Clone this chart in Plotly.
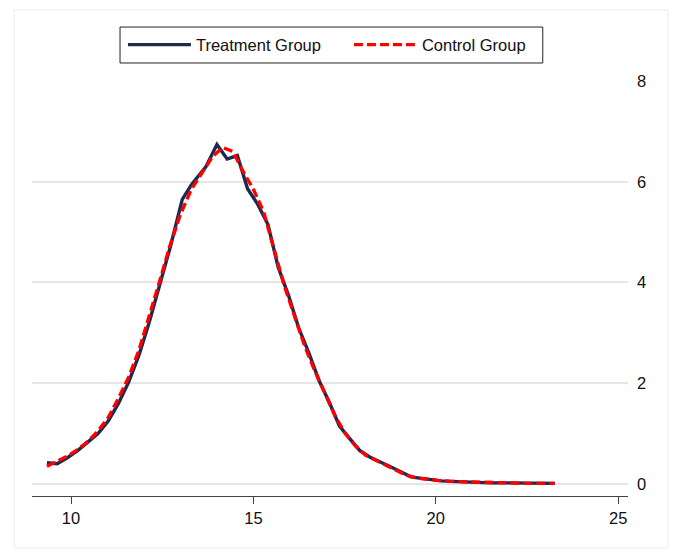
import plotly.graph_objects as go

# Treatment group density
treat_x = [9.34, 9.62, 9.90, 10.18, 10.46, 10.74, 11.02, 11.30, 11.58, 11.86, 12.14, 12.42,
           12.72, 13.05, 13.30, 13.70, 14.00, 14.28, 14.56, 14.84, 15.12, 15.40, 15.68, 15.96,
           16.24, 16.52, 16.80, 17.08, 17.36, 17.64, 17.92, 18.20, 18.48, 18.76, 19.04, 19.32,
           19.60, 19.88, 20.16, 20.44, 20.72, 21.00, 21.50, 22.00, 22.50, 23.00, 23.26]
treat_y = [0.42, 0.40, 0.52, 0.66, 0.83, 1.00, 1.25, 1.60, 2.02, 2.55, 3.20, 3.90,
           4.70, 5.65, 5.94, 6.30, 6.74, 6.45, 6.52, 5.86, 5.55, 5.15, 4.30, 3.75,
           3.10, 2.60, 2.05, 1.62, 1.15, 0.90, 0.66, 0.53, 0.44, 0.34, 0.24, 0.14,
           0.11, 0.08, 0.06, 0.05, 0.04, 0.03, 0.02, 0.02, 0.01, 0.01, 0.01]

# Control group density
ctrl_x = [9.34, 9.62, 9.90, 10.18, 10.46, 10.74, 11.02, 11.30, 11.58, 11.86, 12.14, 12.42,
          12.72, 13.00, 13.30, 13.60, 13.88, 14.16, 14.44, 14.72, 15.00, 15.28, 15.56, 15.84,
          16.12, 16.40, 16.68, 16.96, 17.24, 17.52, 17.80, 18.08, 18.36, 18.64, 18.92, 19.20,
          19.48, 19.76, 20.04, 20.40, 20.80, 21.20, 21.60, 22.00, 22.50, 23.00, 23.26]
ctrl_y = [0.35, 0.45, 0.55, 0.68, 0.84, 1.05, 1.32, 1.70, 2.12, 2.65, 3.30, 4.00,
          4.75, 5.35, 5.85, 6.20, 6.50, 6.68, 6.60, 6.20, 5.85, 5.40, 4.65, 3.95,
          3.35, 2.75, 2.25, 1.78, 1.35, 1.00, 0.75, 0.57, 0.47, 0.38, 0.27, 0.17,
          0.12, 0.09, 0.07, 0.05, 0.04, 0.03, 0.02, 0.02, 0.01, 0.01, 0.01]

x_ticks = [10, 15, 20, 25]
y_ticks = [0, 2, 4, 6, 8]
y_grid = [0, 2, 4, 6]

FONT = "Liberation Sans, Arial, sans-serif"
FS = 16.5

fig = go.Figure()
fig.add_trace(go.Scatter(x=treat_x, y=treat_y, mode="lines", name="Treatment Group",
                         line=dict(color="#1c2a50", width=3.4)))
fig.add_trace(go.Scatter(x=ctrl_x, y=ctrl_y, mode="lines", name="Control Group",
                         line=dict(color="#ff0000", width=3.4, dash="9px,4px")))

fig.update_layout(
    width=670, height=547,
    margin=dict(l=24, r=50, t=73, b=59, autoexpand=False),
    paper_bgcolor="white", plot_bgcolor="white",
    font=dict(family=FONT, size=FS, color="#111111"),
    showlegend=True,
    legend=dict(orientation="h", x=0.1526, xanchor="left", y=1.087, yanchor="middle",
                borderwidth=0, bgcolor="rgba(0,0,0,0)",
                itemwidth=63, entrywidth=148, font=dict(size=FS), tracegroupgap=0),
    xaxis=dict(range=[8.93, 25.27], tickvals=x_ticks, ticks="outside", ticklen=7,
               tickcolor="#444444", showline=True, linecolor="#444444", linewidth=1.2,
               showgrid=False, zeroline=False, tickfont=dict(size=FS), automargin=False),
    yaxis=dict(range=[-0.24, 8.0], tickvals=y_grid, showticklabels=False,
               showgrid=True, gridcolor="#e6e6e6", gridwidth=1.5, zeroline=False,
               showline=False, ticks="", automargin=False),
    yaxis2=dict(range=[-0.24, 8.0], tickvals=y_ticks, overlaying="y", side="right",
                showgrid=False, zeroline=False, showline=False, ticks="",
                ticklabelstandoff=8, tickfont=dict(size=FS), automargin=False),
    shapes=[dict(type="rect", xref="paper", yref="paper",
                 x0=-0.030, x1=1.067, y0=-0.125, y1=1.171,
                 line=dict(color="#ececec", width=1), layer="below"),
            dict(type="rect", xref="paper", yref="paper",
                 x0=0.1477, x1=0.857, y0=1.0434, y1=1.130,
                 line=dict(color="#222222", width=1), fillcolor="white", layer="below")],
)
# an invisible trace to attach the right-side axis
fig.add_trace(go.Scatter(x=[treat_x[0]], y=[treat_y[0]], yaxis="y2", mode="lines",
                         showlegend=False, hoverinfo="skip", line=dict(width=0)))

fig.write_html("out.html")
